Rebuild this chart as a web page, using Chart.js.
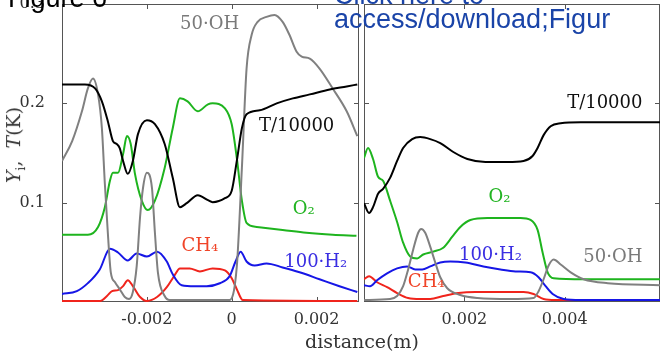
<!DOCTYPE html>
<html>
<head>
<meta charset="utf-8">
<script src="https://cdn.jsdelivr.net/npm/chart.js@4.4.1/dist/chart.umd.min.js"></script>
<style>
    body { margin: 0; width: 662px; height: 354px; overflow: hidden; background: #fff; position: relative; }
    .panel { position: absolute; top: 0; }
    #left-panel { left: 0; }
    #right-panel { left: 362px; }
    .overlay { position: absolute; white-space: nowrap; }
    #fig-label { left: 8px; top: -15px; font: 27px "Liberation Sans", sans-serif; line-height: 26px; color: #000; }
    #link-text { left: 334px; top: -17px; font: 27px "Liberation Sans", sans-serif; line-height: 24px; color: #1a44a8; }
    #y-title { left: 15px; top: 145px; transform: translate(-50%, -50%) rotate(-90deg); font: 19px "DejaVu Serif", serif; color: #333; }
    #y-title sub { font-size: 12px; }
    #x-title { left: 362px; top: 341px; transform: translate(-50%, -50%); font: 19px "DejaVu Serif", serif; color: #333; }
</style>
</head>
<body>
<div class="panel" id="left-panel"><canvas id="left-chart" width="362" height="354"></canvas></div>
<div class="panel" id="right-panel"><canvas id="right-chart" width="300" height="354"></canvas></div>
<div class="overlay" id="y-title"><i>Y</i><sub>i</sub>,&nbsp; <i>T</i>(K)</div>
<div class="overlay" id="x-title">distance(m)</div>
<div class="overlay" id="fig-label">Figure 6</div>
<div class="overlay" id="link-text">Click here to<br>access/download;Figur</div>
<script>
// axis ticks
const yTicks = [0.1, 0.2, 0.3];
const yTickLabels = ['0.1', '0.2', '0.3'];
const leftXTicks = [-0.002, 0, 0.002];
const leftXTickLabels = ['-0.002', '0', '0.002'];
const rightXTicks = [0.002, 0.004];
const rightXTickLabels = ['0.002', '0.004'];

// left panel (distance in m)
const tLeftX = [-0.004, -0.00346, -0.00322, -0.00306, -0.00292, -0.0028, -0.00271, -0.00264, -0.00256, -0.00245, -0.00233, -0.00221, -0.002, -0.00181, -0.00158, -0.00139, -0.00122, -0.00106, -0.0008, -0.00056, -0.00045, -0.00016, 0, 0.00012, 0.00024, 0.00035, 0.00066, 0.00106, 0.00144, 0.00184, 0.00231, 0.00271, 0.00296];
const tLeftY = [0.219, 0.219, 0.215, 0.202, 0.182, 0.162, 0.159, 0.155, 0.142, 0.129, 0.142, 0.169, 0.183, 0.179, 0.159, 0.125, 0.0955, 0.0995, 0.1075, 0.1025, 0.1005, 0.1045, 0.112, 0.142, 0.175, 0.189, 0.193, 0.2, 0.205, 0.209, 0.214, 0.217, 0.219];

const o2LeftX = [-0.004, -0.00339, -0.00315, -0.00299, -0.00287, -0.0028, -0.00268, -0.00256, -0.00247, -0.00238, -0.00228, -0.00212, -0.00198, -0.00181, -0.00158, -0.00139, -0.00122, -0.00104, -0.0008, -0.00056, -0.00045, -0.00016, 0, 0.00012, 0.00024, 0.00035, 0.00059, 0.0012, 0.00176, 0.00238, 0.00294];
const o2LeftY = [0.0677, 0.0677, 0.0756, 0.0955, 0.122, 0.13, 0.13, 0.149, 0.167, 0.159, 0.129, 0.102, 0.0925, 0.102, 0.135, 0.175, 0.205, 0.202, 0.192, 0.199, 0.2, 0.195, 0.179, 0.145, 0.102, 0.0796, 0.0756, 0.0726, 0.0697, 0.0677, 0.0667];

const ohLeftX = [-0.004, -0.00376, -0.00353, -0.00339, -0.00327, -0.00315, -0.00306, -0.00299, -0.00292, -0.00285, -0.00275, -0.00264, -0.00252, -0.00242, -0.00233, -0.00224, -0.00216, -0.00209, -0.002, -0.00188, -0.00181, -0.00174, -0.00158, -0.00146, -0.00005, 0.00012, 0.00024, 0.00035, 0.00047, 0.00061, 0.00082, 0.00101, 0.0012, 0.00136, 0.00153, 0.00165, 0.00184, 0.00207, 0.00238, 0.00271, 0.00296];
const ohLeftY = [0.142, 0.162, 0.192, 0.215, 0.225, 0.209, 0.175, 0.119, 0.0697, 0.0299, 0.0199, 0.0129, 0.005, 0.003, 0.01, 0.0358, 0.0856, 0.115, 0.13, 0.115, 0.0697, 0.0299, 0.006, 0.002, 0.002, 0.0358, 0.135, 0.235, 0.269, 0.282, 0.287, 0.289, 0.282, 0.269, 0.252, 0.247, 0.245, 0.235, 0.215, 0.192, 0.167];

const h2LeftX = [-0.004, -0.00365, -0.00339, -0.00311, -0.00287, -0.00268, -0.00245, -0.00224, -0.002, -0.00176, -0.00153, -0.00139, -0.00118, -0.00087, -0.00059, -0.00028, -0.00005, 0.00009, 0.00021, 0.00035, 0.00054, 0.00082, 0.0012, 0.0016, 0.00207, 0.00254, 0.00296];
const h2LeftY = [0.008, 0.011, 0.019, 0.0328, 0.0537, 0.0498, 0.0418, 0.0488, 0.0458, 0.0507, 0.0408, 0.0279, 0.0169, 0.0159, 0.0159, 0.0189, 0.0259, 0.0408, 0.0507, 0.0408, 0.0368, 0.0388, 0.0348, 0.0299, 0.0229, 0.0159, 0.01];

const ch4LeftX = [-0.004, -0.0031, -0.00294, -0.00282, -0.00268, -0.00256, -0.00245, -0.00233, -0.00216, -0.002, -0.00176, -0.00153, -0.00136, -0.00122, -0.00099, -0.00075, -0.00045, -0.00016, 0, 0.00012, 0.00026, 0.00296];
const ch4LeftY = [0.001, 0.001, 0.006, 0.011, 0.012, 0.016, 0.0219, 0.016, 0.005, 0.001, 0.005, 0.0149, 0.0259, 0.0338, 0.0338, 0.0308, 0.0338, 0.0318, 0.0239, 0.0129, 0.002, 0.001];

// right panel
const tRightX = [0, 0.0001, 0.00018, 0.00028, 0.00038, 0.00052, 0.00066, 0.00078, 0.00096, 0.00112, 0.00132, 0.00152, 0.00178, 0.00206, 0.00242, 0.00286, 0.00318, 0.00336, 0.00346, 0.00358, 0.00372, 0.00392, 0.00432, 0.00592];
const tRightY = [0.0995, 0.0896, 0.0955, 0.109, 0.114, 0.125, 0.142, 0.155, 0.164, 0.166, 0.164, 0.16, 0.151, 0.144, 0.141, 0.141, 0.142, 0.147, 0.155, 0.168, 0.177, 0.18, 0.181, 0.181];

const o2RightX = [0, 0.00008, 0.00018, 0.00028, 0.00038, 0.00052, 0.00066, 0.00078, 0.00092, 0.00106, 0.00118, 0.00138, 0.00158, 0.00176, 0.00192, 0.00212, 0.00246, 0.00292, 0.00312, 0.00332, 0.00346, 0.00356, 0.00366, 0.00378, 0.00438, 0.00592];
const o2RightY = [0.145, 0.155, 0.144, 0.126, 0.122, 0.102, 0.0806, 0.0597, 0.0458, 0.0438, 0.0478, 0.0507, 0.0547, 0.0657, 0.0756, 0.0826, 0.0846, 0.0846, 0.0846, 0.0826, 0.0726, 0.0498, 0.0299, 0.0239, 0.0229, 0.0229];

const ohRightX = [0, 0.00052, 0.00066, 0.00078, 0.00088, 0.00098, 0.00108, 0.00114, 0.00122, 0.00132, 0.00142, 0.00152, 0.00166, 0.00192, 0.00226, 0.00292, 0.00338, 0.00348, 0.00358, 0.00368, 0.00378, 0.00392, 0.00412, 0.00438, 0.00486, 0.00592];
const ohRightY = [0.002, 0.003, 0.006, 0.0159, 0.0328, 0.0527, 0.0697, 0.0736, 0.0697, 0.0557, 0.0398, 0.0249, 0.0139, 0.007, 0.004, 0.003, 0.004, 0.0109, 0.0229, 0.0368, 0.0428, 0.0378, 0.0299, 0.0229, 0.0189, 0.0169];

const h2RightX = [0, 0.00012, 0.00026, 0.00046, 0.00066, 0.00086, 0.00102, 0.00116, 0.00132, 0.00152, 0.00172, 0.00202, 0.00238, 0.00272, 0.00302, 0.00332, 0.00348, 0.00362, 0.00376, 0.00398, 0.00432, 0.00592];
const h2RightY = [0.0169, 0.0159, 0.0219, 0.0289, 0.0338, 0.0358, 0.0328, 0.0328, 0.0358, 0.0398, 0.0408, 0.0398, 0.0358, 0.0328, 0.0308, 0.0299, 0.0249, 0.0159, 0.008, 0.003, 0.002, 0.002];

const ch4RightX = [0, 0.0001, 0.00026, 0.00046, 0.00066, 0.00088, 0.00112, 0.00132, 0.00158, 0.00188, 0.00222, 0.00272, 0.00318, 0.00338, 0.00358, 0.00382, 0.00592];
const ch4RightY = [0.0229, 0.0259, 0.0199, 0.0149, 0.009, 0.004, 0.003, 0.003, 0.006, 0.009, 0.01, 0.01, 0.01, 0.008, 0.003, 0.002, 0.002];

// curve labels: text, x, y (data units)
const leftLabels = [['50·OH', -0.00052, 0.28], ['T/10000', 0.00153, 0.177], ['O₂', 0.0017, 0.093], ['CH₄', -0.00075, 0.056], ['100·H₂', 0.00198, 0.04]];
const rightLabels = [['T/10000', 0.0048, 0.2], ['O₂', 0.0027, 0.105], ['100·H₂', 0.00252, 0.047], ['CH₄', 0.00124, 0.02], ['50·OH', 0.00496, 0.045]];

const colors = { t: '#000000', o2: '#1eb41e', oh: '#808080', h2: '#1616e6', ch4: '#f0241c' };
const labelColors = { 'T/10000': '#111111', 'O₂': '#22b422', '50·OH': '#7a7a7a', '100·H₂': '#3a2ee2', 'CH₄': '#f04428' };

class FlameFigure {
    constructor() {
        this.charts = {};
        this.init();
    }

    init() {
        this.charts.left = this.createPanel('left-chart', {
            xMin: -0.004, xMax: 0.003,
            xTicks: leftXTicks, xLabels: leftXTickLabels,
            showY: true, padding: { top: 4, right: 3, left: 0, bottom: 0 },
            series: [
                [tLeftX, tLeftY, colors.t],
                [ohLeftX, ohLeftY, colors.oh],
                [o2LeftX, o2LeftY, colors.o2],
                [h2LeftX, h2LeftY, colors.h2],
                [ch4LeftX, ch4LeftY, colors.ch4]
            ],
            labels: leftLabels
        });
        this.charts.right = this.createPanel('right-chart', {
            xMin: 0, xMax: 0.0059,
            xTicks: rightXTicks, xLabels: rightXTickLabels,
            showY: false, padding: { top: 4, right: 2, left: 2, bottom: 0 },
            series: [
                [tRightX, tRightY, colors.t],
                [ohRightX, ohRightY, colors.oh],
                [o2RightX, o2RightY, colors.o2],
                [h2RightX, h2RightY, colors.h2],
                [ch4RightX, ch4RightY, colors.ch4]
            ],
            labels: rightLabels
        });
    }

    createPanel(id, cfg) {
        const canvas = document.getElementById(id);
        const ctx = canvas.getContext('2d');

        const datasets = cfg.series.map(([xs, ys, color]) => ({
            data: xs.map((x, i) => ({ x: x, y: ys[i] })),
            borderColor: color,
            borderWidth: 2,
            pointRadius: 0,
            fill: false,
            cubicInterpolationMode: 'monotone'
        }));

        // frame, inward tick marks and curve labels
        const framePlugin = {
            id: 'frame',
            beforeDatasetsDraw(chart) {
                const { ctx, chartArea: a, scales: { x, y } } = chart;
                ctx.save();
                ctx.strokeStyle = '#555';
                ctx.lineWidth = 1;
                ctx.strokeRect(a.left + 0.5, a.top + 0.5, a.width - 1, a.height - 1);
                ctx.beginPath();
                cfg.xTicks.forEach(v => {
                    const px = Math.round(x.getPixelForValue(v)) + 0.5;
                    ctx.moveTo(px, a.bottom); ctx.lineTo(px, a.bottom - 5);
                    ctx.moveTo(px, a.top); ctx.lineTo(px, a.top + 5);
                });
                [0.1, 0.2].forEach(v => {
                    const py = Math.round(y.getPixelForValue(v)) + 0.5;
                    ctx.moveTo(a.left, py); ctx.lineTo(a.left + 5, py);
                    ctx.moveTo(a.right, py); ctx.lineTo(a.right - 5, py);
                });
                ctx.stroke();
                ctx.restore();
            },
            afterDatasetsDraw(chart) {
                const { ctx, scales: { x, y } } = chart;
                ctx.save();
                ctx.font = '18px "DejaVu Serif", serif';
                ctx.textAlign = 'center';
                ctx.textBaseline = 'middle';
                cfg.labels.forEach(([text, lx, ly]) => {
                    ctx.fillStyle = labelColors[text];
                    ctx.fillText(text, x.getPixelForValue(lx), y.getPixelForValue(ly));
                });
                ctx.restore();
            }
        };

        const config = {
            type: 'line',
            data: { datasets: datasets },
            options: {
                responsive: false,
                animation: false,
                layout: { padding: cfg.padding },
                plugins: { legend: { display: false }, tooltip: { enabled: false } },
                scales: {
                    x: {
                        type: 'linear',
                        min: cfg.xMin,
                        max: cfg.xMax,
                        afterBuildTicks: s => { s.ticks = cfg.xTicks.map(v => ({ value: v })); },
                        afterFit: s => {
                            s.height = 52;
                            s.paddingLeft = 0;
                            s.paddingRight = 0;
                        },
                        ticks: {
                            padding: 8,
                            maxRotation: 0,
                            autoSkip: false,
                            color: '#333',
                            font: { family: 'DejaVu Serif', size: 16 },
                            callback: (v, i) => cfg.xLabels[i]
                        },
                        grid: { display: false, drawTicks: false },
                        border: { display: false }
                    },
                    y: {
                        display: cfg.showY,
                        min: 0,
                        max: 0.3,
                        afterBuildTicks: s => { s.ticks = yTicks.map(v => ({ value: v })); },
                        afterFit: s => {
                            s.width = cfg.showY ? 62 : 0;
                            s.paddingTop = 0;
                            s.paddingBottom = 0;
                        },
                        ticks: {
                            padding: 17,
                            autoSkip: false,
                            color: '#333',
                            font: { family: 'DejaVu Serif', size: 16 },
                            callback: (v, i) => yTickLabels[i]
                        },
                        grid: { display: false, drawTicks: false },
                        border: { display: false }
                    }
                }
            },
            plugins: [framePlugin]
        };

        return new Chart(ctx, config);
    }
}

window.flameFigure = new FlameFigure();
</script>
</body>
</html>
